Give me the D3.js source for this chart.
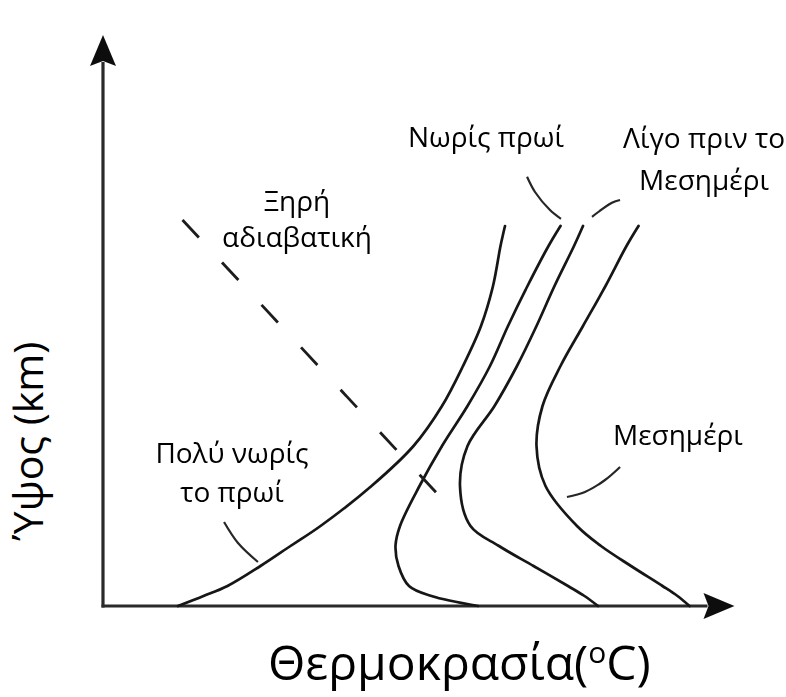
<!DOCTYPE html>
<html>
<head>
<meta charset="utf-8">
<script src="https://cdn.jsdelivr.net/npm/d3@7"></script>
<style>
  html, body { margin: 0; padding: 0; background: #fff; }
  svg { display: block; }
  text { font-family: "Open Sans", "Noto Sans", sans-serif; fill: #000; }
</style>
</head>
<body>
<svg id="chart" width="786" height="697"></svg>
<script>
// Heights (km) at which every temperature profile is sampled
const heights = [0, 0.25, 0.5, 1, 1.5, 2, 3, 4, 5, 6, 7, 8, 9, 9.5];

// Temperature profiles (°C) through the day
const veryEarlyMorning = [5.0, 6.7, 8.3, 10.5, 12.5, 14.5, 17.9, 20.7, 22.6, 24.0, 25.2, 26.0, 26.5, 26.8];
const earlyMorning     = [25.0, 21.9, 20.4, 19.7, 19.5, 19.8, 21.1, 22.6, 24.3, 25.8, 27.0, 28.3, 29.7, 30.5];
const lateMorning      = [33.0, 32.1, 31.0, 28.7, 26.4, 24.5, 23.8, 24.3, 26.1, 27.6, 28.9, 30.1, 31.4, 32.0];
const noon             = [39.1, 38.3, 37.3, 35.2, 33.2, 31.6, 29.5, 28.9, 29.3, 30.5, 32.0, 33.5, 34.9, 35.7];

// Dry adiabatic lapse line: end points (°C, km)
const adiabatTemps   = [5.3, 22.5];
const adiabatHeights = [9.65, 2.72];

// Label texts
const labelAdiabat   = ["Ξηρή", "αδιαβατική"];
const labelEarly     = ["Νωρίς πρωί"];
const labelLate      = ["Λίγο πριν το", "Μεσημέρι"];
const labelNoon      = ["Μεσημέρι"];
const labelVeryEarly = ["Πολύ νωρίς", "το πρωί"];

// Axis titles
const xTitle = "Θερμοκρασία(";
const xTitleSup = "o";
const xTitleEnd = "C)";
const yTitle = "Ύψος (km)";

const svg = d3.select("#chart");

const x = d3.scaleLinear().domain([0, 42.1]).range([103, 734.5]);
const y = d3.scaleLinear().domain([0, 14.275]).range([606, 35]);

// soft rendering of the drawn strokes
const defs = svg.append("defs");
defs.append("filter").attr("id", "soft")
  .attr("x", "-5%").attr("y", "-5%").attr("width", "110%").attr("height", "110%")
  .append("feGaussianBlur").attr("stdDeviation", 0.6);

const ink = svg.append("g").attr("filter", "url(#soft)");

// Axes without ticks, ending in arrow heads
const xAxis = d3.axisBottom(x).tickValues([]).tickSizeOuter(0);
const yAxis = d3.axisLeft(y).tickValues([]).tickSizeOuter(0);
const arrowLen = 31, arrowHalf = 13;

ink.append("g").attr("transform", `translate(0,${y(0)})`).call(xAxis)
  .call(g => g.select(".domain")
    .attr("d", `M${x(0) - 1.5},0H${x.range()[1] - arrowLen + 4}`)
    .attr("stroke", "#2b2b2b").attr("stroke-width", 3.2));
ink.append("g").attr("transform", `translate(${x(0)},0)`).call(yAxis)
  .call(g => g.select(".domain")
    .attr("d", `M0,${y(0) + 1.5}V${y.range()[1] + arrowLen - 4}`)
    .attr("stroke", "#2b2b2b").attr("stroke-width", 3.2));

const xEnd = x.range()[1], yEnd = y.range()[1];
ink.append("path")
  .attr("d", `M${xEnd},${y(0)}L${xEnd - arrowLen},${y(0) - arrowHalf}L${xEnd - arrowLen + 5},${y(0)}L${xEnd - arrowLen},${y(0) + arrowHalf}Z`)
  .attr("fill", "#111");
ink.append("path")
  .attr("d", `M${x(0)},${yEnd}L${x(0) - arrowHalf},${yEnd + arrowLen}L${x(0)},${yEnd + arrowLen - 5}L${x(0) + arrowHalf},${yEnd + arrowLen}Z`)
  .attr("fill", "#111");

// Temperature profiles
const profile = d3.line()
  .x(d => x(d[0]))
  .y(d => y(d[1]))
  .curve(d3.curveCatmullRom.alpha(0.5));

[veryEarlyMorning, earlyMorning, lateMorning, noon].forEach(temps => {
  ink.append("path")
    .datum(temps.map((t, i) => [t, heights[i]]))
    .attr("d", profile)
    .attr("fill", "none")
    .attr("stroke", "#161616")
    .attr("stroke-width", 2.7)
    .attr("stroke-linecap", "round");
});

// Dry adiabat (dashed)
ink.append("path")
  .datum(adiabatTemps.map((t, i) => [t, adiabatHeights[i]]))
  .attr("d", d3.line().x(d => x(d[0])).y(d => y(d[1])))
  .attr("fill", "none")
  .attr("stroke", "#1c1c1c")
  .attr("stroke-width", 2.8)
  .attr("stroke-dasharray", "24,34");

// Leader strokes from labels to their profiles (°C, km)
const leaders = [
  [[8.07, 2.1], [9.0, 1.575], [10.33, 1.1]],
  [[28.27, 10.73], [28.8, 10.35], [29.8, 9.9], [30.53, 9.68]],
  [[32.6, 9.73], [33.93, 10.08], [34.47, 10.15]],
  [[30.93, 2.725], [32.13, 2.85], [33.47, 3.15], [34.47, 3.475]]
];
const leaderLine = d3.line().x(d => x(d[0])).y(d => y(d[1])).curve(d3.curveCatmullRom.alpha(0.5));
leaders.forEach(pts => {
  ink.append("path").datum(pts).attr("d", leaderLine)
    .attr("fill", "none").attr("stroke", "#262626").attr("stroke-width", 2.2);
});

// Annotation labels: lines, centre (°C), first baseline (km), line step (px)
const labels = [
  { lines: labelAdiabat,   t: 12.93, z: 9.875, step: 36 },
  { lines: labelEarly,     t: 25.53, z: 11.475, step: 40 },
  { lines: labelLate,      t: 40.07, z: 11.45, step: 42 },
  { lines: labelNoon,      t: 38.33, z: 4.025, step: 40 },
  { lines: labelVeryEarly, t: 8.6,   z: 3.575, step: 39 }
];
labels.forEach(l => {
  const txt = svg.append("text")
    .attr("text-anchor", "middle")
    .attr("font-size", 28);
  l.lines.forEach((s, i) => {
    txt.append("tspan")
      .attr("x", x(l.t))
      .attr("y", y(l.z) + i * l.step)
      .text(s);
  });
});

// Axis titles
const xt = svg.append("text")
  .attr("x", 268).attr("y", 680)
  .attr("font-size", 48);
xt.append("tspan").text(xTitle);
xt.append("tspan").attr("font-size", 30).attr("dy", -17).text(xTitleSup);
xt.append("tspan").attr("dy", 17).text(xTitleEnd);

svg.append("text")
  .attr("transform", "translate(43,441) rotate(-90)")
  .attr("text-anchor", "middle")
  .attr("font-size", 41)
  .text(yTitle);
</script>
</body>
</html>
